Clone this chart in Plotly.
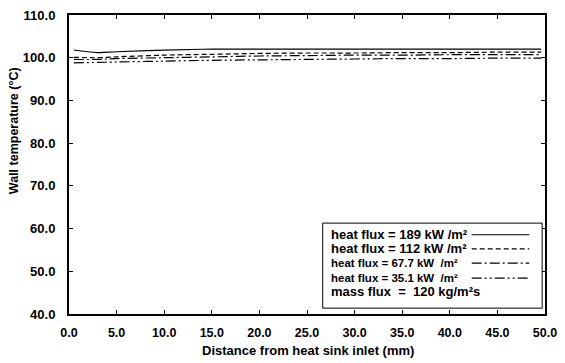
import plotly.graph_objects as go

distance = [0.5, 3, 5, 10, 15, 20, 25, 30, 35, 40, 45, 49.6]
t_189 = [101.8, 101.2, 101.4, 101.8, 102.0, 102.0, 102.0, 102.0, 102.0, 102.0, 102.0, 102.0]
t_112 = [100.1, 100.0, 100.2, 100.6, 100.8, 101.0, 101.1, 101.1, 101.2, 101.2, 101.3, 101.3]
t_67 = [99.6, 99.6, 99.8, 100.0, 100.2, 100.4, 100.5, 100.6, 100.6, 100.7, 100.7, 100.7]
t_35 = [98.8, 98.9, 99.0, 99.2, 99.4, 99.5, 99.6, 99.7, 99.8, 99.8, 99.9, 99.9]

labels = ["heat flux = 189 kW /m²", "heat flux = 112 kW /m²",
          "heat flux = 67.7 kW  /m²", "heat flux = 35.1 kW  /m²"]
label_sizes = [13, 13, 11.5, 11.5]
dashes = ["solid", "5px,3px", "10px,3px,2px,3px", "10px,3px,2px,3px,2px,3px"]
series = [t_189, t_112, t_67, t_35]
extra_label = "mass flux  =  120 kg/m²s"
x_title = "Distance from heat sink inlet (mm)"
y_title = "Wall temperature (°C)"

FONT = "Liberation Sans, Arial, sans-serif"

fig = go.Figure()
for ys, d in zip(series, dashes):
    fig.add_trace(go.Scatter(x=distance, y=ys, mode="lines",
                             line=dict(color="black", width=1.2, dash=d, shape="spline"),
                             showlegend=False))

axis_common = dict(showline=True, linecolor="black", linewidth=2, mirror="allticks",
                   ticks="inside", ticklen=4, tickcolor="black", showgrid=False,
                   zeroline=False)

fig.update_xaxes(range=[0, 50], tickmode="linear", tick0=0, dtick=5, tickformat=".1f",
                 tickfont=dict(family=FONT, size=12.5, color="black", weight="bold"),
                 ticklabelstandoff=6, **axis_common)
fig.update_yaxes(range=[40, 110], tickmode="linear", tick0=40, dtick=10, tickformat=".1f",
                 tickfont=dict(family=FONT, size=13, color="black", weight="bold"),
                 ticklabelstandoff=9, **axis_common)

fig.add_annotation(xref="paper", yref="paper", x=0.502, y=-0.123, xanchor="center",
                   yanchor="middle", text=x_title, showarrow=False,
                   font=dict(family=FONT, size=13, color="black", weight="bold"))
fig.add_annotation(xref="paper", yref="paper", x=-0.114, y=0.614, xanchor="center",
                   yanchor="middle", text=y_title, showarrow=False, textangle=-90,
                   font=dict(family=FONT, size=12.5, color="black", weight="bold"))

# custom legend (text on left, line sample on right)
x0, x1, y0, y1 = 0.533, 0.994, 0.0196, 0.304
fig.add_shape(type="rect", xref="paper", yref="paper", x0=x0, x1=x1, y0=y0, y1=y1,
              line=dict(color="black", width=1), fillcolor="white", layer="above")
rows = [0.265, 0.218, 0.170, 0.120, 0.074]
for i, (lab, sz, d) in enumerate(zip(labels, label_sizes, dashes)):
    fig.add_annotation(xref="paper", yref="paper", x=0.546, y=rows[i], xanchor="left",
                       yanchor="middle", text=lab, showarrow=False,
                       font=dict(family=FONT, size=sz, color="black", weight="bold"))
    fig.add_shape(type="line", xref="paper", yref="paper", x0=0.846, x1=0.967,
                  y0=rows[i], y1=rows[i], line=dict(color="black", width=1.2, dash=d),
                  layer="above")
fig.add_annotation(xref="paper", yref="paper", x=0.546, y=rows[4], xanchor="left",
                   yanchor="middle", text=extra_label, showarrow=False,
                   font=dict(family=FONT, size=13, color="black", weight="bold"))

fig.update_layout(width=565, height=363, margin=dict(l=69, r=14, t=8, b=49),
                  paper_bgcolor="white", plot_bgcolor="white", showlegend=False)

fig.write_html("out.html")
